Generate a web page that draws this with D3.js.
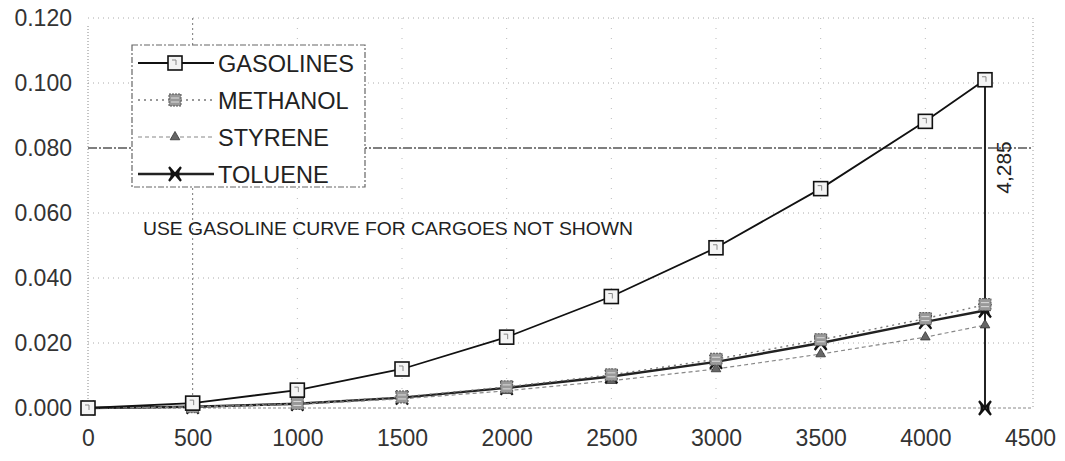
<!DOCTYPE html>
<html>
<head>
<meta charset="utf-8">
<script src="https://cdn.jsdelivr.net/npm/d3@7"></script>
<style>
  body { margin: 0; background: #fff; }
  svg { display: block; font-family: "Liberation Sans", Arial, sans-serif; }
</style>
</head>
<body>
<svg id="chart" width="1065" height="461"></svg>
<script>
// chart values
let cargo = [0, 500, 1000, 1500, 2000, 2500, 3000, 3500, 4000, 4285];
let gasolines = [0.000, 0.0015, 0.0055, 0.0120, 0.0218, 0.0343, 0.0493, 0.0675, 0.0882, 0.1010];
let methanol = [0.000, 0.0004, 0.0014, 0.0034, 0.0065, 0.0102, 0.0150, 0.0210, 0.0275, 0.0318];
let styrene = [0.000, 0.0003, 0.0011, 0.0028, 0.0053, 0.0084, 0.0120, 0.0166, 0.0218, 0.0255];
let toluene = [0.000, 0.0004, 0.0013, 0.0032, 0.0062, 0.0097, 0.0142, 0.0200, 0.0265, 0.0300];
let cutoffX = [4285, 4285], cutoffY = [0.000, 0.1010];
let cutoffLabel = "4,285";
let xTicks = [0, 500, 1000, 1500, 2000, 2500, 3000, 3500, 4000, 4500];
let yTicks = [0, 0.02, 0.04, 0.06, 0.08, 0.10, 0.12];
let seriesNames = ["GASOLINES", "METHANOL", "STYRENE", "TOLUENE"];
let note = "USE GASOLINE CURVE FOR CARGOES NOT SHOWN";

let svg = d3.select("#chart");

let x = d3.scaleLinear().domain([0, 4500]).range([88, 1030]);
let y = d3.scaleLinear().domain([0, 0.12]).range([408, 18]);

// gridlines
let grid = svg.append("g");
grid.selectAll(".hg")
    .data(yTicks.filter(d => d > 0))
    .enter().append("line")
    .attr("x1", x(0)).attr("x2", x(4500) + 3)
    .attr("y1", d => y(d)).attr("y2", d => y(d))
    .attr("stroke", d => Math.abs(d - 0.08) < 1e-9 ? "#555" : "#aaa")
    .attr("stroke-width", d => Math.abs(d - 0.08) < 1e-9 ? 1.3 : 1)
    .attr("stroke-dasharray", d => Math.abs(d - 0.08) < 1e-9 ? "9,2,2,2" : "1,4");

grid.selectAll(".vg")
    .data(xTicks.filter(d => d > 0 && d < 4500))
    .enter().append("line")
    .attr("x1", d => x(d)).attr("x2", d => x(d))
    .attr("y1", y(0.12)).attr("y2", y(0))
    .attr("stroke", d => d == 500 ? "#777" : "#bbb")
    .attr("stroke-dasharray", d => d == 500 ? "2,3" : "1,9");

// plot edges
grid.append("line")
    .attr("x1", x(0)).attr("x2", x(0))
    .attr("y1", y(0.12) + 8).attr("y2", y(0))
    .attr("stroke", "#888").attr("stroke-dasharray", "1,2");
grid.append("line")
    .attr("x1", x(4500) + 3).attr("x2", x(4500) + 3)
    .attr("y1", y(0.12)).attr("y2", y(0))
    .attr("stroke", "#999").attr("stroke-dasharray", "1,3");
grid.append("line")
    .attr("x1", x(0)).attr("x2", x(4500) + 3)
    .attr("y1", y(0)).attr("y2", y(0))
    .attr("stroke", "#888").attr("stroke-dasharray", "3,2");

// axes labels
let yAxis = d3.axisLeft(y).tickValues(yTicks).tickFormat(d3.format(".3f")).tickSize(0).tickPadding(16);
svg.append("g")
    .attr("transform", "translate(" + x(0) + ",0)")
    .call(yAxis)
    .call(g => g.select(".domain").remove())
    .selectAll("text")
    .attr("font-size", 23).attr("fill", "#333")
    .attr("font-family", "Liberation Sans, Arial, sans-serif");

let xAxis = d3.axisBottom(x).tickValues(xTicks).tickFormat(d3.format("d")).tickSize(0).tickPadding(22);
svg.append("g")
    .attr("transform", "translate(0," + y(0) + ")")
    .call(xAxis)
    .call(g => g.select(".domain").remove())
    .selectAll("text")
    .attr("font-size", 23).attr("fill", "#333")
    .attr("font-family", "Liberation Sans, Arial, sans-serif");

// series
let series = [
    { name: seriesNames[0], vals: gasolines, stroke: "#111", width: 1.8, dash: null, marker: "square" },
    { name: seriesNames[1], vals: methanol, stroke: "#777", width: 1.4, dash: "2,4", marker: "hatch" },
    { name: seriesNames[2], vals: styrene, stroke: "#888", width: 1.2, dash: "4,3", marker: "tri" },
    { name: seriesNames[3], vals: toluene, stroke: "#222", width: 2.4, dash: null, marker: "cross" }
];

let line = d3.line().x(d => x(d[0])).y(d => y(d[1]));

function drawMarker(g, type, cx, cy) {
    if (type == "square") {
        g.append("rect").attr("x", cx - 7).attr("y", cy - 7).attr("width", 14).attr("height", 14)
            .attr("fill", "#f4f4f4").attr("stroke", "#111").attr("stroke-width", 1.6);
        g.append("path").attr("d", "M" + (cx - 3) + "," + (cy - 3) + "h4v5").attr("fill", "none")
            .attr("stroke", "#888").attr("stroke-width", 1);
    } else if (type == "hatch") {
        g.append("rect").attr("x", cx - 6).attr("y", cy - 6).attr("width", 12).attr("height", 12)
            .attr("fill", "#999").attr("stroke", "#555").attr("stroke-width", 1).attr("stroke-dasharray", "2,1");
        g.append("path").attr("d", "M" + (cx - 4) + "," + (cy - 2) + "h8M" + (cx - 4) + "," + (cy + 2) + "h8")
            .attr("stroke", "#ddd").attr("stroke-width", 1);
    } else if (type == "tri") {
        g.append("path").attr("d", d3.symbol(d3.symbolTriangle, 40)())
            .attr("transform", "translate(" + cx + "," + cy + ")")
            .attr("fill", "#666").attr("stroke", "#333").attr("stroke-width", 0.8);
    } else {
        // bow-tie shaped cross
        g.append("path")
            .attr("d", "M" + (cx - 6) + "," + (cy - 7) + "Q" + cx + "," + cy + " " + (cx - 6) + "," + (cy + 7) +
                       "M" + (cx + 6) + "," + (cy - 7) + "Q" + cx + "," + cy + " " + (cx + 6) + "," + (cy + 7) +
                       "M" + (cx - 6) + "," + (cy - 7) + "L" + (cx + 6) + "," + (cy + 7) +
                       "M" + (cx + 6) + "," + (cy - 7) + "L" + (cx - 6) + "," + (cy + 7))
            .attr("stroke", "#111").attr("stroke-width", 2.2).attr("fill", "none");
    }
}

let plot = svg.append("g");

// the 4,285 cut-off line
let cutoff = d3.zip(cutoffX, cutoffY);
plot.append("path").datum(cutoff)
    .attr("d", line).attr("fill", "none").attr("stroke", "#222").attr("stroke-width", 2);

// draw lines back to front so gasolines is on top
series.slice().reverse().forEach(s => {
    let pts = d3.zip(cargo, s.vals);
    plot.append("path").datum(pts)
        .attr("d", line).attr("fill", "none")
        .attr("stroke", s.stroke).attr("stroke-width", s.width)
        .attr("stroke-dasharray", s.dash);
});
series.slice().reverse().forEach(s => {
    let mg = plot.append("g");
    d3.zip(cargo, s.vals).forEach(p => drawMarker(mg, s.marker, x(p[0]), y(p[1])));
});
drawMarker(plot.append("g"), "cross", x(cutoffX[0]), y(cutoffY[0]));

// data label of the cut-off
svg.append("text")
    .attr("transform", "translate(" + (x(cutoffX[0]) + 26) + "," + y(0.074) + ") rotate(-90)")
    .attr("text-anchor", "middle")
    .attr("font-size", 21).attr("fill", "#222")
    .text(cutoffLabel);

// note text
svg.append("text")
    .attr("x", 143).attr("y", 235)
    .attr("font-size", 18.5).attr("fill", "#222")
    .attr("textLength", 490).attr("lengthAdjust", "spacingAndGlyphs")
    .text(note);

// legend
let legend = svg.append("g");
legend.append("rect")
    .attr("x", 132).attr("y", 45).attr("width", 233).attr("height", 142)
    .attr("fill", "#fff").attr("stroke", "#666").attr("stroke-width", 1.2)
    .attr("stroke-dasharray", "6,2,2,2");

series.forEach((s, i) => {
    let cy = 63 + i * 37;
    legend.append("line")
        .attr("x1", 138).attr("x2", 214).attr("y1", cy).attr("y2", cy)
        .attr("stroke", s.stroke).attr("stroke-width", s.width)
        .attr("stroke-dasharray", s.dash);
    drawMarker(legend, s.marker, 175, cy);
    legend.append("text")
        .attr("x", 218).attr("y", cy + 8.5)
        .attr("font-size", 23.5).attr("fill", "#222")
        .text(s.name);
});
</script>
</body>
</html>
